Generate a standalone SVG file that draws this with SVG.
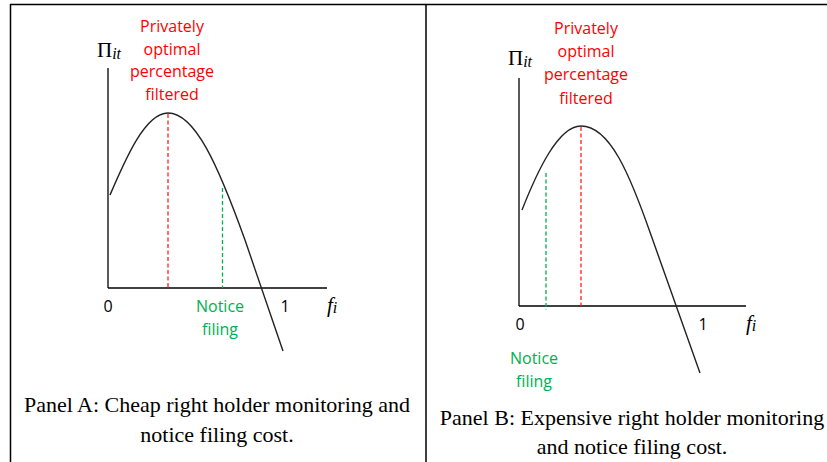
<svg xmlns="http://www.w3.org/2000/svg" width="827" height="462" viewBox="0 0 827 462">
<style>
.frame{stroke:#000;stroke-width:1.5;fill:none}
.axis{stroke:#000;stroke-width:1.3;fill:none}
.curve{stroke:#222;stroke-width:1.4;fill:none}
.red-dash{stroke:#ff2020;stroke-width:1.3;stroke-dasharray:4 2.5;fill:none}
.green-dash{stroke:#00b050;stroke-width:1.3;stroke-dasharray:4 2.5;fill:none}
.lab{font-family:"Open Sans","Liberation Sans",sans-serif;font-size:16px;text-anchor:middle;font-weight:500}
.red{fill:#ff0000}
.green{fill:#00b050}
.num{fill:#000}
.math{font-family:"Liberation Serif","DejaVu Serif",serif;fill:#000}
.cap{font-family:"Liberation Serif","Times New Roman",serif;font-size:22px;fill:#000;text-anchor:middle}
</style>
<rect width="827" height="462" fill="#fff"/>
<g id="frame">
<line class="frame" x1="10" y1="4.5" x2="827" y2="4.5"/>
<line class="frame" x1="10.5" y1="4" x2="10.5" y2="462"/>
<line class="frame" x1="426" y1="4" x2="426" y2="462"/>
</g>
<g id="panelA">
<g id="axesA">
<line class="axis" x1="108" y1="68" x2="108" y2="288"/>
<line class="axis" x1="108" y1="288" x2="327" y2="288"/>
</g>
<g id="connectorsA">
<path class="curve" d="M110,195 C125,160 145,113 168,113 C195,113 218,165 245,240 L283,351"/>
<line class="red-dash" x1="168" y1="114" x2="168" y2="288"/>
<line class="green-dash" x1="222.5" y1="188" x2="222.5" y2="288"/>
</g>
<g id="labelsA">
<text class="math" x="97" y="57" font-size="21">Π<tspan font-style="italic" font-size="16" dy="2">it</tspan></text>
<text class="lab red" x="172" y="32">Privately</text>
<text class="lab red" x="172" y="55">optimal</text>
<text class="lab red" x="172" y="77">percentage</text>
<text class="lab red" x="172" y="100">filtered</text>
<text class="lab num" x="108" y="312">0</text>
<text class="lab green" x="220" y="312">Notice</text>
<text class="lab green" x="220" y="335">filing</text>
<text class="lab num" x="285" y="312">1</text>
<text class="math" x="327" y="312" font-size="21" font-style="italic">f<tspan font-size="16" dy="1">i</tspan></text>
</g>
<g id="captionA">
<text class="cap" x="217" y="412">Panel A: Cheap right holder monitoring and</text>
<text class="cap" x="217" y="442">notice filing cost.</text>
</g>
</g>
<g id="panelB">
<g id="axesB">
<line class="axis" x1="519" y1="78" x2="519" y2="306"/>
<line class="axis" x1="519" y1="306" x2="746" y2="306"/>
</g>
<g id="connectorsB">
<path class="curve" d="M522,210 C537,172 558,126 581,126 C610,126 630,175 651,235 L700,373"/>
<line class="red-dash" x1="581" y1="127" x2="581" y2="306"/>
<line class="green-dash" x1="546" y1="173" x2="546" y2="310"/>
</g>
<g id="labelsB">
<text class="math" x="508" y="65" font-size="21">Π<tspan font-style="italic" font-size="16" dy="2">it</tspan></text>
<text class="lab red" x="586" y="34">Privately</text>
<text class="lab red" x="586" y="57">optimal</text>
<text class="lab red" x="586" y="80">percentage</text>
<text class="lab red" x="586" y="104">filtered</text>
<text class="lab num" x="520" y="330">0</text>
<text class="lab green" x="534" y="364">Notice</text>
<text class="lab green" x="534" y="387">filing</text>
<text class="lab num" x="703" y="330">1</text>
<text class="math" x="746" y="330" font-size="21" font-style="italic">f<tspan font-size="16" dy="1">i</tspan></text>
</g>
<g id="captionB">
<text class="cap" x="632" y="425">Panel B: Expensive right holder monitoring</text>
<text class="cap" x="632" y="454">and notice filing cost.</text>
</g>
</g>
</svg>
